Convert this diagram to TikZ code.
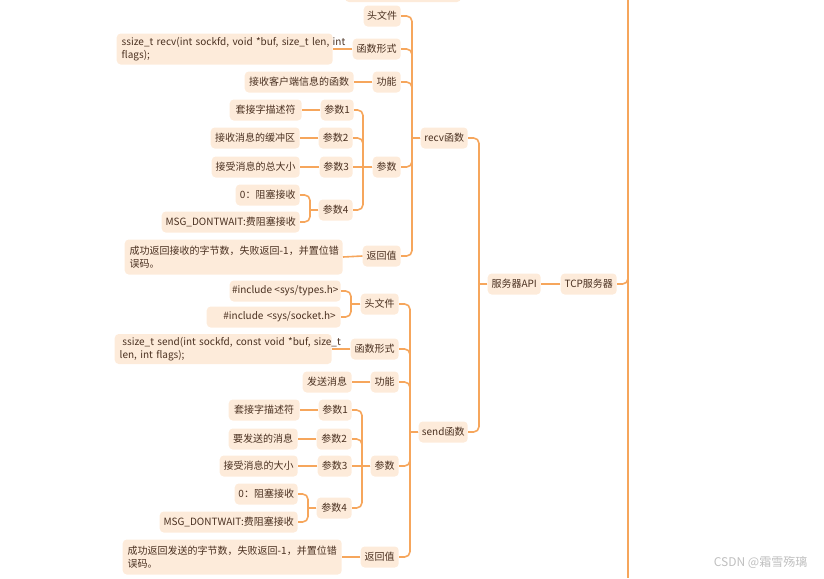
\documentclass[tikz,border=0pt]{standalone}
\usepackage{fontspec}
\setmainfont{Noto Sans CJK SC}
\definecolor{bxfill}{HTML}{FDEBDA}
\definecolor{lnc}{HTML}{F6A65C}
\definecolor{txt}{HTML}{4A3020}
\tikzset{
  box/.style={fill=bxfill, rounded corners=3pt, inner xsep=0pt, inner ysep=0pt,
    minimum height={21*0.75pt}, text=txt, font=\fontsize{7.5}{10}\selectfont, anchor=east},
  link/.style={draw=lnc, line width=1.2pt},
}
\newcommand\bx[5][]{\node[box,minimum width={#4*0.75pt},#1] (#2) at (#3) {#5};}
\newcommand\mbx[6][left]{\node[box,align=#1,inner xsep={5*0.75pt},text width={(#4-10)*0.75pt},minimum height={#5*0.75pt}] (#2) at (#3) {#6};}
\newcommand\conn[3]{\draw[link] (#1.west) -- (#1.west -| #3);
  \draw[link,rounded corners=4pt] (#1.west -| #3) |- (#2.east);}
\begin{document}
\begin{tikzpicture}[x=0.75pt,y=-0.75pt]
\useasboundingbox (0,0) rectangle (824,578);
\fill[bxfill, rounded corners=3pt] (345,-20) rectangle (461,2);
% spines
\coordinate (TS) at (628,0);
\coordinate (AS) at (479,0);
\coordinate (RS) at (412,0);
\coordinate (RPS) at (363,0);
\coordinate (RP4S) at (310,0);
\coordinate (SS) at (410,0);
\coordinate (SHS) at (351,0);
\coordinate (SPS) at (362,0);
\coordinate (SP4S) at (308,0);
% main nodes
\bx{tcp}{617,284}{56}{TCP服务器}
\bx{api}{541,284}{53}{服务器API}
\bx{recv}{468,138}{47}{recv函数}
\bx{send}{468,432}{49}{send函数}
% recv branch
\bx{r1}{401,16}{37}{头文件}
\bx{r2}{401,49}{48}{函数形式}
\bx{r3}{401,82}{28}{功能}
\bx{r4}{401,167}{28}{参数}
\bx{r5}{401,256}{38}{返回值}
\mbx{r2a}{333,49}{216}{31}{\mbox{ssize\_t recv(int sockfd, void *buf, size\_t len, int}\\flags);}
\bx{r3a}{354,82}{109}{接收客户端信息的函数}
\bx{p1}{354,110}{33}{参数1}
\bx{p2}{353,138}{34}{参数2}
\bx{p3}{353,167}{33}{参数3}
\bx{p4}{353,210}{34}{参数4}
\bx{p1a}{302,110}{72}{套接字描述符}
\bx{p2a}{300,138}{89}{接收消息的缓冲区}
\bx{p3a}{300,167}{88}{接受消息的总大小}
\bx{p4a}{300,195}{64}{0：阻塞接收}
\bx{p4b}{300,222}{138}{MSG\_DONTWAIT:费阻塞接收}
\mbx{r5a}{343,257}{218}{35}{\mbox{成功返回接收的字节数，失败返回-1，并置位错}\\误码。}
% send branch
\bx{s1}{399,304}{38}{头文件}
\bx{s2}{399,349}{48}{函数形式}
\bx{s3}{399,382}{28}{功能}
\bx{s4}{399,466}{28}{参数}
\bx{s5}{399,557}{38}{返回值}
\bx{s1a}{341,291}{111}{\#include <sys/types.h>}
\mbx[right]{s1b}{341,317}{134}{21}{\#include <sys/socket.h>}
\mbx{s2a}{332,349}{217}{30}{\mbox{\hspace{2pt}ssize\_t send(int sockfd, const void *buf, size\_t}\\len, int flags);}
\bx{s3a}{352,382}{49}{发送消息}
\bx{q1}{352,410}{33}{参数1}
\bx{q2}{352,439}{35}{参数2}
\bx{q3}{352,466}{34}{参数3}
\bx{q4}{352,508}{35}{参数4}
\bx{q1a}{300,410}{71}{套接字描述符}
\bx{q2a}{298,439}{69}{要发送的消息}
\bx{q3a}{298,466}{78}{接受消息的大小}
\bx{q4a}{298,494}{63}{0：阻塞接收}
\bx{q4b}{298,522}{138}{MSG\_DONTWAIT:费阻塞接收}
\mbx{s5a}{342,557}{219}{35}{\mbox{成功返回发送的字节数，失败返回-1，并置位错}\\误码。}
% connectors
\draw[link] (TS) -- (628,578);
\draw[link,rounded corners=4pt] (tcp.east) -| (628,270);
\draw[link] (tcp.west) -- (api.east);
\conn{api}{recv}{AS}
\conn{api}{send}{AS}
\conn{recv}{r1}{RS}
\conn{recv}{r2}{RS}
\conn{recv}{r3}{RS}
\conn{recv}{r4}{RS}
\conn{recv}{r5}{RS}
\draw[link] (r2.west) -- (r2a.east);
\draw[link] (r3.west) -- (r3a.east);
\draw[link] (r5.west) -- (r5a.east);
\conn{r4}{p1}{RPS}
\conn{r4}{p2}{RPS}
\draw[link] (r4.west) -- (p3.east);
\conn{r4}{p4}{RPS}
\draw[link] (p1.west) -- (p1a.east);
\draw[link] (p2.west) -- (p2a.east);
\draw[link] (p3.west) -- (p3a.east);
\conn{p4}{p4a}{RP4S}
\conn{p4}{p4b}{RP4S}
\conn{send}{s1}{SS}
\conn{send}{s2}{SS}
\conn{send}{s3}{SS}
\conn{send}{s4}{SS}
\conn{send}{s5}{SS}
\conn{s1}{s1a}{SHS}
\conn{s1}{s1b}{SHS}
\draw[link] (s2.west) -- (s2a.east);
\draw[link] (s3.west) -- (s3a.east);
\draw[link] (s5.west) -- (s5a.east);
\conn{s4}{q1}{SPS}
\conn{s4}{q2}{SPS}
\draw[link] (s4.west) -- (q3.east);
\conn{s4}{q4}{SPS}
\draw[link] (q1.west) -- (q1a.east);
\draw[link] (q2.west) -- (q2a.east);
\draw[link] (q3.west) -- (q3a.east);
\conn{q4}{q4a}{SP4S}
\conn{q4}{q4b}{SP4S}
\node[text=black!25, font=\fontsize{9}{9}\selectfont, anchor=east] (wm) at (812,562) {CSDN @霜雪殇璃};
\end{tikzpicture}
\end{document}
